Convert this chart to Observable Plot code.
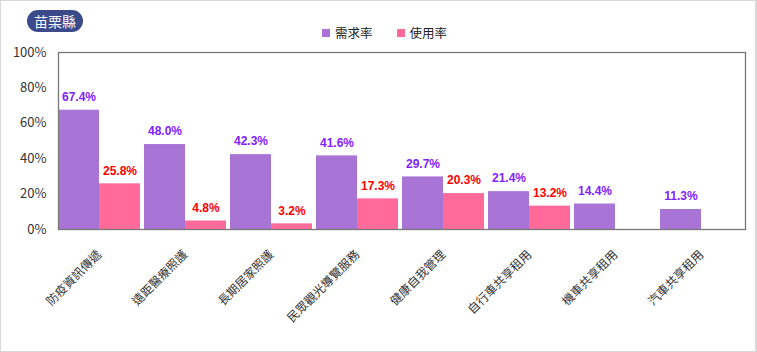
<!DOCTYPE html>
<html>
<head>
<meta charset="utf-8">
<script src="https://cdn.jsdelivr.net/npm/d3@7"></script>
<script src="https://cdn.jsdelivr.net/npm/@observablehq/plot@0.6"></script>
<style>
  html, body { margin: 0; padding: 0; background: #fff; }
  #wrap { position: relative; width: 757px; height: 352px; overflow: hidden;
          box-shadow: inset 1px 1px 0 0 #d9d9d9, inset -2px -1px 0 0 #d9d9d9;
          font-family: "Noto Sans CJK TC", "Noto Sans", sans-serif; }
  #wrap svg { position: absolute; left: 0; top: 0; }
  #badge { position: absolute; left: 27px; top: 10px; width: 56px; height: 22px; border-radius: 11px;
           background: #3b4a8b; color: #fff; font-size: 14px; line-height: 22px; text-align: center; z-index: 2; }
  #legend { position: absolute; top: 24px; left: 322px; font-size: 12.5px; color: #222; display: flex; gap: 24px; z-index: 2; }
  #legend span.item { display: flex; align-items: center; gap: 5px; line-height: 18px; }
  #legend i { display: inline-block; width: 8px; height: 8px; }
</style>
</head>
<body>
<div id="wrap">
  <div id="badge"></div>
  <div id="legend"></div>
</div>
<script>
const title = "苗栗縣";
const categories = ["防疫資訊傳遞", "遠距醫療照護", "長期居家照護", "民眾觀光導覽服務", "健康自我管理", "自行車共享租用", "機車共享租用", "汽車共享租用"];
const seriesNames = ["需求率", "使用率"];
const demand = [67.4, 48.0, 42.3, 41.6, 29.7, 21.4, 14.4, 11.3];
const usage = [25.8, 4.8, 3.2, 17.3, 20.3, 13.2, null, null];
const barColors = ["#a874d6", "#ff6a9a"];
const labelColors = ["#7f22ff", "#ff0000"];
const yTicks = [0, 20, 40, 60, 80, 100];

const rows = categories.flatMap((c, i) => [
  {cat: c, series: seriesNames[0], value: demand[i]},
  {cat: c, series: seriesNames[1], value: usage[i]}
]).filter(d => d.value != null);

document.getElementById("badge").textContent = title;
const legend = document.getElementById("legend");
seriesNames.forEach((s, i) => {
  const it = document.createElement("span");
  it.className = "item";
  it.innerHTML = `<i style="background:${barColors[i]}"></i>${s}`;
  legend.appendChild(it);
});

const W = 757, H = 352;

const main = Plot.plot({
  width: W, height: H, marginTop: 52, marginBottom: 123, marginLeft: 55, marginRight: 11,
  style: {fontFamily: '"Noto Sans CJK TC", "Noto Sans", sans-serif', fontSize: "13px", color: "#333", background: "transparent", overflow: "visible"},
  fx: {domain: categories, axis: null, padding: 0.046},
  x: {domain: seriesNames, axis: null, padding: 0},
  y: {domain: [0, 100], ticks: yTicks, tickFormat: d => d + "%", tickSize: 0, tickPadding: 12, label: null},
  color: {domain: seriesNames, range: barColors},
  marks: [
    Plot.barY(rows, {fx: "cat", x: "series", y: "value", fill: "series"}),
    ...seriesNames.map((s, i) => Plot.text(rows.filter(d => d.series === s), {
      fx: "cat", x: "series", y: "value", text: d => d.value.toFixed(1) + "%",
      dy: -13, fill: labelColors[i], fontWeight: "bold", fontSize: 12,
      fontFamily: '"Liberation Sans", Arial, sans-serif'
    })),
    Plot.text(categories, {
      fx: d => d, text: d => d, frameAnchor: "bottom", dy: 23, dx: 0,
      rotate: -45, textAnchor: "end", lineAnchor: "middle", fontSize: 12, fill: "#333"
    })
  ]
});

const overlay = Plot.plot({
  width: W, height: H, marginTop: 52, marginBottom: 123, marginLeft: 58, marginRight: 12,
  style: {background: "transparent"},
  x: {axis: null}, y: {axis: null},
  marks: [Plot.frame({stroke: "#777", strokeWidth: 1.3})]
});

const wrap = document.getElementById("wrap");
wrap.appendChild(main);
wrap.appendChild(overlay);
</script>
</body>
</html>
